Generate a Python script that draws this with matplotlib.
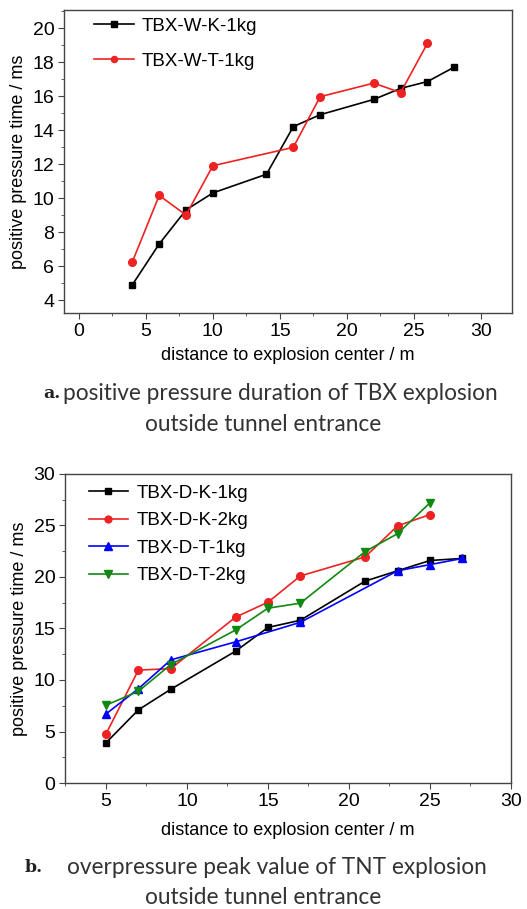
import matplotlib
matplotlib.use("Agg")
import matplotlib.pyplot as plt
import matplotlib.font_manager as fm
from matplotlib.ticker import MultipleLocator

names = {f.name for f in fm.fontManager.ttflist}
if 'Liberation Sans Narrow' in names:
    main_font, fs = 'Liberation Sans Narrow', 15
else:
    main_font, fs = 'Liberation Sans', 13
plt.rcParams['font.family'] = [main_font, 'DejaVu Sans']

# ---- (a) TBX, W
xa_k = [4, 6, 8, 10, 14, 16, 18, 22, 24, 26, 28]
ya_k = [4.9, 7.3, 9.3, 10.3, 11.4, 14.2, 14.9, 15.8, 16.45, 16.85, 17.7]
xa_t = [4, 6, 8, 10, 16, 18, 22, 24, 26]
ya_t = [6.25, 10.15, 9.0, 11.9, 12.98, 15.96, 16.76, 16.2, 19.1]

# ---- (b) TBX, D
xb_k1 = [5, 7, 9, 13, 15, 17, 21, 23, 25, 27]
yb_k1 = [3.9, 7.1, 9.1, 12.8, 15.1, 15.8, 19.6, 20.6, 21.6, 21.8]
xb_k2 = [5, 7, 9, 13, 15, 17, 21, 23, 25]
yb_k2 = [4.75, 10.96, 11.1, 16.1, 17.55, 20.1, 21.95, 24.96, 26.06]
xb_t1 = [5, 7, 9, 13, 17, 23, 25, 27]
yb_t1 = [6.7, 9.15, 11.95, 13.7, 15.6, 20.6, 21.2, 21.8]
xb_t2 = [5, 7, 9, 13, 15, 17, 21, 23, 25]
yb_t2 = [7.55, 8.9, 11.5, 14.85, 16.97, 17.46, 22.47, 24.2, 27.2]

fig = plt.figure(figsize=(5.27, 9.09), dpi=100)

def style(ax):
    for s in ax.spines.values():
        s.set_color('#444444')
        s.set_linewidth(1.0)
    ax.tick_params(which='both', direction='out', color='#444444',
                   top=False, right=False, labelsize=fs + 1, pad=3)
    ax.tick_params(which='major', length=4)
    ax.tick_params(which='minor', length=2.5)

ax1 = fig.add_axes([0.1214, 0.6557, 0.850, 0.3333])
ax1.plot(xa_k, ya_k, color='black', lw=1.2, marker='s', ms=5, label='TBX-W-K-1kg')
ax1.plot(xa_t, ya_t, color='#ee2222', lw=1.2, marker='o', ms=5.5, label='TBX-W-T-1kg')
ax1.set_xlim(-1.1, 32.3)
ax1.set_ylim(3.24, 21.06)
ax1.xaxis.set_major_locator(MultipleLocator(5))
ax1.xaxis.set_minor_locator(MultipleLocator(2.5))
ax1.yaxis.set_major_locator(MultipleLocator(2))
ax1.yaxis.set_minor_locator(MultipleLocator(1))
style(ax1)
ax1.set_xlabel('distance to explosion center / m', fontsize=fs, labelpad=5)
ax1.set_ylabel('positive pressure time / ms', fontsize=fs, labelpad=4)
ax1.legend(loc='upper left', bbox_to_anchor=(0.03, 1.03), frameon=False,
           fontsize=fs + 0.5, handlelength=2.1, handletextpad=0.45, labelspacing=0.95,
           markerscale=0.8)

ax2 = fig.add_axes([0.1233, 0.1386, 0.8463, 0.340])
ax2.plot(xb_k1, yb_k1, color='black', lw=1.2, marker='s', ms=5, label='TBX-D-K-1kg')
ax2.plot(xb_k2, yb_k2, color='#ee2222', lw=1.2, marker='o', ms=5.5, label='TBX-D-K-2kg')
ax2.plot(xb_t1, yb_t1, color='#0000ff', lw=1.2, marker='^', ms=6, label='TBX-D-T-1kg')
ax2.plot(xb_t2, yb_t2, color='#118811', lw=1.2, marker='v', ms=6, label='TBX-D-T-2kg')
ax2.set_xlim(2.47, 30)
ax2.set_ylim(0, 30)
ax2.xaxis.set_major_locator(MultipleLocator(5))
ax2.xaxis.set_minor_locator(MultipleLocator(2.5))
ax2.yaxis.set_major_locator(MultipleLocator(5))
ax2.yaxis.set_minor_locator(MultipleLocator(2.5))
style(ax2)
ax2.set_xlabel('distance to explosion center / m', fontsize=fs, labelpad=9)
ax2.set_ylabel('positive pressure time / ms', fontsize=fs, labelpad=4)
ax2.legend(loc='upper left', bbox_to_anchor=(0.015, 1.02), frameon=False,
           fontsize=fs + 0.5, handlelength=2.1, handletextpad=0.45, labelspacing=0.55,
           markerscale=0.9)

# captions
cap = dict(fontsize=16.3, family=['Lato', 'DejaVu Sans'], color='#333333')
fig.text(43 / 527, 1 - 393 / 909, 'a.', fontweight='bold', family='DejaVu Serif',
         fontsize=12.5, va='center', ha='left', color='#222222')
fig.text(63 / 527, 1 - 393 / 909, 'positive pressure duration of TBX explosion',
         va='center', ha='left', **cap)
fig.text(0.5, 1 - 425 / 909, 'outside tunnel entrance', va='center', ha='center', **cap)
fig.text(25 / 527, 1 - 867 / 909, 'b.', fontweight='bold', family='DejaVu Serif',
         fontsize=12.5, va='center', ha='left', color='#222222')
fig.text(67 / 527, 1 - 867 / 909, 'overpressure peak value of TNT explosion',
         va='center', ha='left', **cap)
fig.text(0.5, 1 - 898 / 909, 'outside tunnel entrance', va='center', ha='center', **cap)

fig.savefig('out.png', dpi=100)
